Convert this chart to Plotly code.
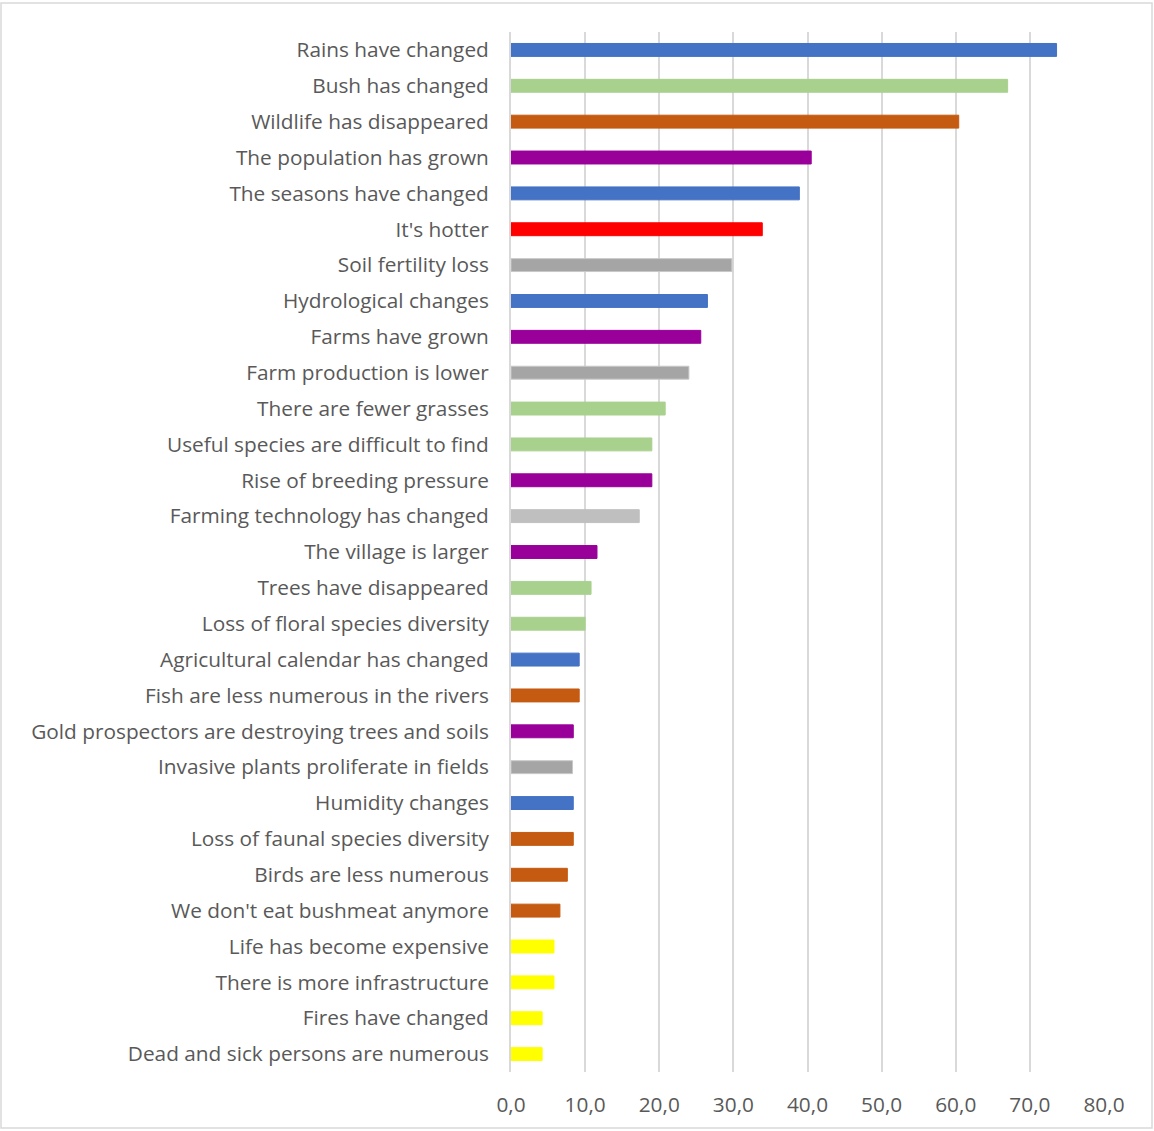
import plotly.graph_objects as go

categories = [
    "Rains have changed", "Bush has changed", "Wildlife has disappeared",
    "The population has grown", "The seasons have changed", "It's hotter",
    "Soil fertility loss", "Hydrological changes", "Farms have grown",
    "Farm production is lower", "There are fewer grasses",
    "Useful species are difficult to find", "Rise of breeding pressure",
    "Farming technology has changed", "The village is larger",
    "Trees have disappeared", "Loss of floral species diversity",
    "Agricultural calendar has changed", "Fish are less numerous in the rivers",
    "Gold prospectors are destroying trees and soils",
    "Invasive plants proliferate in fields", "Humidity changes",
    "Loss of faunal species diversity", "Birds are less numerous",
    "We don't eat bushmeat anymore", "Life has become expensive",
    "There is more infrastructure", "Fires have changed",
    "Dead and sick persons are numerous",
]
values = [73.6, 67.0, 60.4, 40.5, 38.9, 33.9, 29.8, 26.5, 25.6, 24.0, 20.8,
          19.0, 19.0, 17.3, 11.6, 10.8, 10.0, 9.2, 9.2, 8.4, 8.3, 8.4, 8.4,
          7.6, 6.6, 5.8, 5.8, 4.2, 4.2]
groups = ["climate", "flora", "fauna", "human", "climate", "heat",
          "soil", "climate", "human", "soil", "flora",
          "flora", "human", "tech", "human",
          "flora", "flora", "climate", "fauna", "human",
          "soil", "climate", "fauna", "fauna", "fauna",
          "socio", "socio", "socio", "socio"]
group_colors = {
    "climate": "#4472C4", "flora": "#A9D18E", "fauna": "#C55A11",
    "human": "#990099", "heat": "#FF0000", "soil": "#A5A5A5",
    "tech": "#BFBFBF", "socio": "#FFFF00",
}
tick_vals = [0, 10, 20, 30, 40, 50, 60, 70, 80]
tick_text = ["0,0", "10,0", "20,0", "30,0", "40,0", "50,0", "60,0", "70,0", "80,0"]

colors = [group_colors[g] for g in groups]
line_colors = ["#C8C8C8" if g == "soil" else group_colors[g] for g in groups]

fig = go.Figure(go.Bar(
    y=categories, x=values, orientation="h",
    marker=dict(color=colors, line=dict(color=line_colors, width=1)),
    width=0.36,
))

font_family = "Open Sans, Noto Sans, sans-serif"
fig.update_layout(
    width=1154, height=1131,
    margin=dict(l=511, r=50, t=32, b=59),
    paper_bgcolor="white", plot_bgcolor="white",
    showlegend=False,
    font=dict(family=font_family, size=20.8, color="#595959"),
    xaxis=dict(
        range=[0, 80], tickvals=tick_vals, ticktext=tick_text,
        showgrid=True, gridcolor="#D9D9D9", gridwidth=2,
        zeroline=False, showline=False, ticks="",
        ticklabelstandoff=18,
        tickfont=dict(size=20.8, color="#595959"),
    ),
    yaxis=dict(
        autorange="reversed", showgrid=False, zeroline=False,
        showline=True, linecolor="#D9D9D9", linewidth=2,
        ticks="", ticklabelstandoff=16,
        tickfont=dict(size=20.8, color="#595959"),
    ),
    shapes=[dict(type="rect", xref="paper", yref="paper",
                 x0=-510 / 593, x1=1 + 48 / 593,
                 y0=-56 / 1040, y1=1 + 29 / 1040,
                 line=dict(color="#D9D9D9", width=1.5))],
)

fig.write_html("out.html",
               config={"displayModeBar": False},
               post_script="document.body.style.margin='0';document.body.style.padding='0';")
